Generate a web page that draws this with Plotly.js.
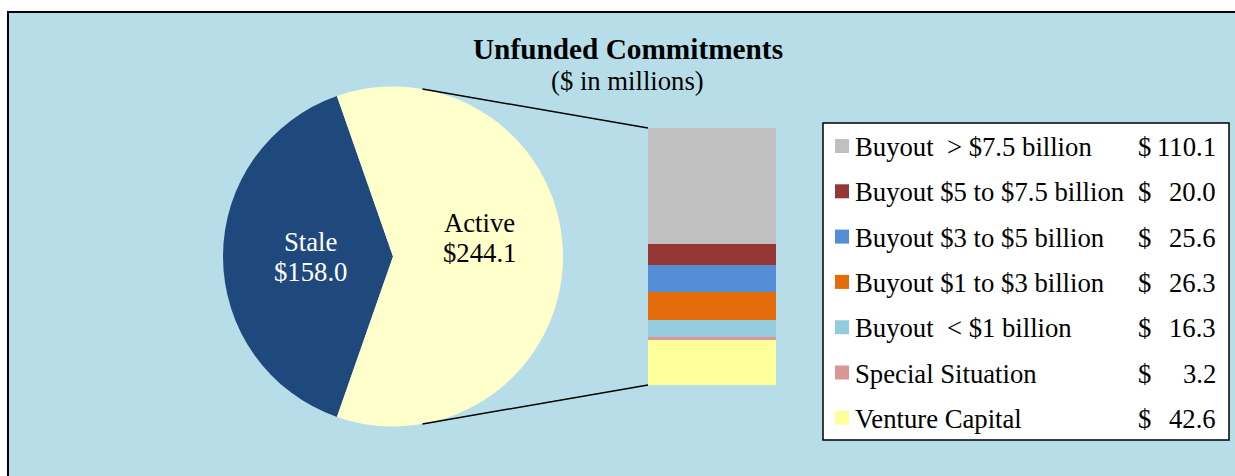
<!DOCTYPE html>
<html>
<head>
<meta charset="utf-8">
<script src="https://cdn.plot.ly/plotly-3.0.1.min.js"></script>
<style>html,body{margin:0;padding:0;background:#fff;}#chart{width:1235px;height:476px;}</style>
</head>
<body>
<div id="chart"></div>
<script>
// ---- data ----
const pieLabels = ['Stale', 'Active'];
const pieValues = [158.0, 244.1];
const pieColors = ['#1F497D', '#FFFFCC'];
const pieTextColors = ['#FFFFFF', '#000000'];

const segLabels = ['Buyout  > $7.5 billion', 'Buyout $5 to $7.5 billion', 'Buyout $3 to $5 billion',
                   'Buyout $1 to $3 billion', 'Buyout  < $1 billion', 'Special Situation', 'Venture Capital'];
const segValues = [110.1, 20.0, 25.6, 26.3, 16.3, 3.2, 42.6];
const segColors = ['#C0C0C0', '#953735', '#558ED5', '#E46C0A', '#93CDDD', '#D99694', '#FFFF99'];

const titleText = 'Unfunded Commitments';
const subtitleText = '($ in millions)';

// ---- layout constants (pixels) ----
const W = 1235, H = 476;
const FONT = 'Liberation Serif, Times New Roman, serif';
const FS = 26.7;
const BG = '#B7DEE8';
const pie = {cx: 393, cy: 256.5, r: 170};
const pieLabelPos = [{x: 310, y1: 241.5, y2: 271.5}, {x: 479, y1: 222.5, y2: 252.5}];
const bar = {x0: 648, x1: 776, top: 128, bottom: 385};
const leg = {x0: 823, y0: 123, x1: 1229, y1: 440, row0: 146, rowGap: 45.3,
             swX: 835, sw: 14, textX: 853, dollarX: 1136, valX: 1218};

const px = x => x / W;
const py = y => 1 - y / H;

const staleDeg = pieValues[0] / (pieValues[0] + pieValues[1]) * 360;
let rot = 270 - staleDeg / 2;
if (rot > 180) rot -= 360;

const traces = [];
traces.push({
  type: 'pie',
  labels: pieLabels,
  values: pieValues,
  sort: false,
  direction: 'clockwise',
  rotation: rot,
  marker: {colors: pieColors, line: {width: 0}},
  textinfo: 'none',
  hoverinfo: 'none',
  showlegend: false,
  domain: {x: [px(pie.cx - pie.r), px(pie.cx + pie.r)], y: [py(pie.cy + pie.r), py(pie.cy - pie.r)]}
});

// stacked bar: bottom segment first
for (let i = segValues.length - 1; i >= 0; i--) {
  traces.push({
    type: 'bar',
    x: [0],
    y: [segValues[i]],
    width: [1],
    name: segLabels[i],
    marker: {color: segColors[i], line: {width: 0}},
    hoverinfo: 'none',
    showlegend: false
  });
}
const total = segValues.reduce((a, b) => a + b, 0);

const shapes = [];
// background panel with frame
shapes.push({type: 'rect', xref: 'paper', yref: 'paper', layer: 'below',
  x0: px(8), x1: px(W + 10), y0: py(H + 10), y1: py(12),
  fillcolor: BG, line: {color: '#000', width: 2}});

// connector lines
const th = 10 * Math.PI / 180;
const pTop = [pie.cx + pie.r * Math.sin(th), pie.cy - pie.r * Math.cos(th)];
const pBot = [pie.cx + pie.r * Math.sin(th), pie.cy + pie.r * Math.cos(th)];
shapes.push({type: 'line', xref: 'paper', yref: 'paper', x0: px(pTop[0]), y0: py(pTop[1]), x1: px(bar.x0), y1: py(bar.top), line: {color: '#000', width: 1.5}});
shapes.push({type: 'line', xref: 'paper', yref: 'paper', x0: px(pBot[0]), y0: py(pBot[1]), x1: px(bar.x0), y1: py(bar.bottom), line: {color: '#000', width: 1.5}});

// legend box
shapes.push({type: 'rect', xref: 'paper', yref: 'paper', x0: px(leg.x0), x1: px(leg.x1), y0: py(leg.y1), y1: py(leg.y0),
  fillcolor: '#FFFFFF', line: {color: '#000', width: 1.5}});

const annotations = [];
annotations.push({xref: 'paper', yref: 'paper', x: px(627), y: py(81), xanchor: 'center', yanchor: 'middle',
  text: subtitleText, showarrow: false, font: {family: FONT, size: FS, color: '#000'}});

// pie labels
for (let i = 0; i < pieLabels.length; i++) {
  const p = pieLabelPos[i];
  annotations.push({xref: 'paper', yref: 'paper', x: px(p.x), y: py(p.y1), xanchor: 'center', yanchor: 'middle',
    text: pieLabels[i], showarrow: false, font: {family: FONT, size: FS, color: pieTextColors[i]}});
  annotations.push({xref: 'paper', yref: 'paper', x: px(p.x), y: py(p.y2), xanchor: 'center', yanchor: 'middle',
    text: '$' + pieValues[i].toFixed(1), showarrow: false, font: {family: FONT, size: FS, color: pieTextColors[i]}});
}

for (let i = 0; i < segLabels.length; i++) {
  const yc = leg.row0 + leg.rowGap * i;
  shapes.push({type: 'rect', xref: 'paper', yref: 'paper',
    x0: px(leg.swX), x1: px(leg.swX + leg.sw), y0: py(yc + leg.sw / 2), y1: py(yc - leg.sw / 2),
    fillcolor: segColors[i], line: {width: 0}});
  annotations.push({xref: 'paper', yref: 'paper', x: px(leg.textX), y: py(yc + 1), xanchor: 'left', yanchor: 'middle',
    text: segLabels[i], showarrow: false, font: {family: FONT, size: FS, color: '#000'}});
  annotations.push({xref: 'paper', yref: 'paper', x: px(leg.dollarX), y: py(yc + 1), xanchor: 'left', yanchor: 'middle',
    text: '$', showarrow: false, font: {family: FONT, size: FS, color: '#000'}});
  annotations.push({xref: 'paper', yref: 'paper', x: px(leg.valX), y: py(yc + 1), xanchor: 'right', yanchor: 'middle',
    text: segValues[i].toFixed(1), showarrow: false, font: {family: FONT, size: FS, color: '#000'}});
}

const layout = {
  width: W, height: H, autosize: false,
  margin: {l: 0, r: 0, t: 0, b: 0, pad: 0},
  paper_bgcolor: '#FFFFFF',
  plot_bgcolor: 'rgba(0,0,0,0)',
  barmode: 'stack',
  bargap: 0,
  showlegend: false,
  title: {text: '<b>' + titleText + '</b>', font: {family: FONT, size: 29.3, color: '#000'},
          x: px(628), xanchor: 'center', xref: 'paper', y: 1 - 49.2 / H, yanchor: 'middle', yref: 'container'},
  xaxis: {domain: [px(bar.x0), px(bar.x1)], range: [-0.5, 0.5], visible: false, fixedrange: true},
  yaxis: {domain: [py(bar.bottom), py(bar.top)], range: [0, total], visible: false, fixedrange: true},
  shapes: shapes,
  annotations: annotations
};

Plotly.newPlot('chart', traces, layout, {displayModeBar: false, staticPlot: true});
</script>
</body>
</html>
